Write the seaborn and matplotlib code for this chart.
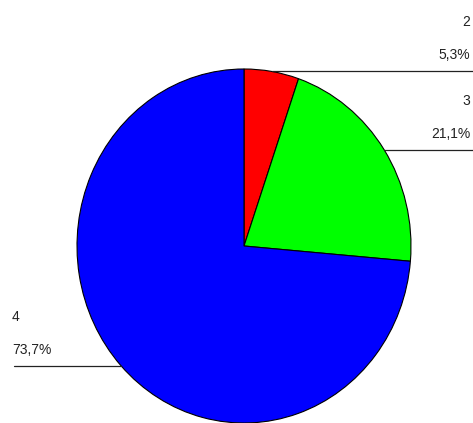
import numpy as np
import matplotlib
matplotlib.use("Agg")
import matplotlib.pyplot as plt
import seaborn as sns

categories = ["2", "3", "4"]
values = [5.3, 21.1, 73.7]
pct_labels = ["5,3%", "21,1%", "73,7%"]
colors = ["#FF0000", "#00FF00", "#0000FF"]

sns.set_theme(style="white")
plt.rcParams['font.family'] = ['Liberation Sans', 'DejaVu Sans']

W, H = 473, 423
fig = plt.figure(figsize=(W / 100, H / 100), dpi=100)
ax = fig.add_axes([0, 0, 1, 1])

cx, cy = 244, 246      # pie centre in pixels
rx, ry = 167, 177      # pie radii in pixels

ax.pie(values, colors=colors, startangle=90, counterclock=False,
       wedgeprops=dict(edgecolor="black", linewidth=0.8))
ax.set_aspect('auto')
ax.set_xlim(-cx / rx, (W - cx) / rx)
ax.set_ylim(-(H - cy) / ry, cy / ry)
ax.axis('off')

xr = (W - cx) / rx
total = sum(values)
cum = 0.0
for cat, v, pl in zip(categories, values, pct_labels):
    mid = (cum + v / 2) / total * 2 * np.pi
    cum += v
    px, py = np.sin(mid), np.cos(mid)
    if px >= 0:
        ax.plot([px, xr], [py, py], color="#222222", lw=0.9, clip_on=False)
        tx, ha = (W - 3 - cx) / rx, "right"
    else:
        ax.plot([(14 - cx) / rx, px], [py, py], color="#222222", lw=0.9, clip_on=False)
        tx, ha = (12 - cx) / rx, "left"
    ax.text(tx, py + 49 / ry, cat, ha=ha, va="center", fontsize=10, color="#222222")
    ax.text(tx, py + 16 / ry, pl, ha=ha, va="center", fontsize=10, color="#222222")

fig.savefig("out.png", dpi=100)
